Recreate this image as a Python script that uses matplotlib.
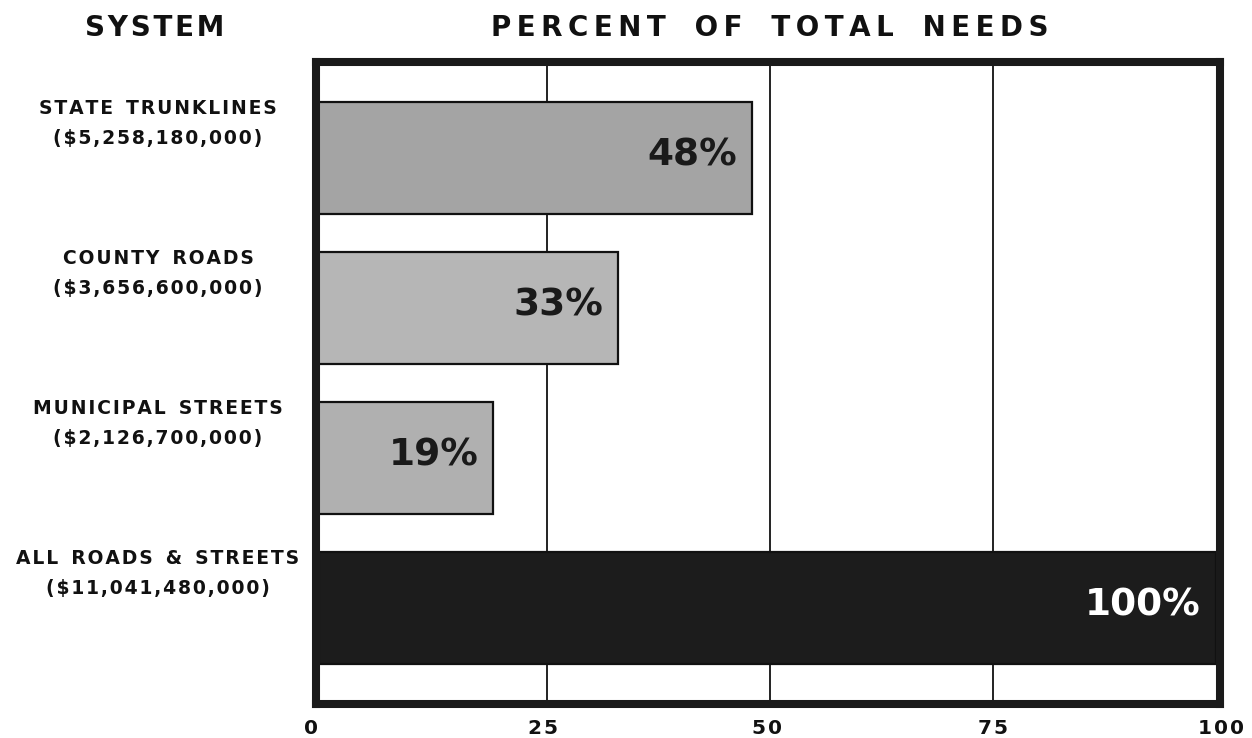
import matplotlib
matplotlib.use('Agg')
import matplotlib.pyplot as plt
import matplotlib.transforms as mtransforms
import numpy as np

# needs by system, percent of the total
systems = ['STATE TRUNKLINES', 'COUNTY ROADS', 'MUNICIPAL STREETS', 'ALL ROADS & STREETS']
costs = ['($5,258,180,000)', '($3,656,600,000)', '($2,126,700,000)', '($11,041,480,000)']
percents = [48, 33, 19, 100]
bar_colors = ['#a4a4a4', '#b6b6b6', '#b0b0b0', '#1c1c1c']
text_colors = ['#1a1a1a', '#1a1a1a', '#1a1a1a', 'white']
xticks = [0, 25, 50, 75, 100]

W, H = 1252, 738
X0 = -0.9  # left edge of the frame, in percent

plt.rcParams['font.family'] = 'DejaVu Sans'
plt.rcParams['font.weight'] = 'bold'


def spaced(s, gap='\u200a', word='  '):
    # letter spacing with hair spaces, words get a wider gap
    return word.join(gap.join(w) for w in s.split(' '))


fig = plt.figure(figsize=(W / 100, H / 100), dpi=100)
ax = fig.add_axes([316 / W, 1 - 704 / H, (1220 - 316) / W, (704 - 62) / H])

y = np.arange(len(percents))
for i in range(len(percents)):
    ax.barh(y[i], percents[i] - X0, left=X0, height=0.75, color=bar_colors[i],
            edgecolor='#111111', linewidth=1.6, zorder=3)
    ax.annotate(f'{percents[i]}%', xy=(percents[i], y[i] - 0.02),
                xytext=(-11, 0), textcoords='offset points',
                ha='right', va='center', fontsize=27, fontweight='bold',
                color=text_colors[i], zorder=4)

# vertical rules at 25, 50, 75
for v in [25, 50, 75]:
    ax.axvline(v, color='#111111', linewidth=1.3, zorder=1)

ax.set_xlim(X0, 100.45)
ax.set_ylim(3.64, -0.64)
ax.set_yticks([])
ax.set_xticks(xticks)
ax.set_xticklabels([spaced(str(t)) for t in xticks], fontsize=14.5, fontweight='bold',
                   color='#111111')
ax.tick_params(axis='x', length=0, pad=11)
# nudge the labels a little off their rules
for lbl, dx in zip(ax.get_xticklabels(), [-1.4, -0.5, -0.3, 0, 0.6]):
    lbl.set_transform(lbl.get_transform() + mtransforms.ScaledTranslation(dx * 9 / 100, 0, fig.dpi_scale_trans))
for sp in ax.spines.values():
    sp.set_linewidth(5.8)
    sp.set_color('#1a1a1a')
    sp.set_zorder(5)

# system names and costs left of the frame
trans = mtransforms.blended_transform_factory(fig.transFigure, ax.transData)
for i in range(len(systems)):
    ax.text(158 / W, y[i] - 0.33, spaced(systems[i]), transform=trans,
            ha='center', va='center', fontsize=13.5, fontweight='bold',
            color='#111111', clip_on=False)
    ax.text(158 / W, y[i] - 0.13, spaced(costs[i]), transform=trans,
            ha='center', va='center', fontsize=13.5, fontweight='bold',
            color='#111111', clip_on=False)

fig.text(155 / W, 1 - 28 / H, spaced('SYSTEM'), ha='center', va='center',
         fontsize=20, fontweight='bold', color='#111111')
fig.text(770 / W, 1 - 28 / H, spaced('PERCENT OF TOTAL NEEDS', '\u2009', '   '),
         ha='center', va='center', fontsize=20, fontweight='bold', color='#111111')

fig.savefig('out.png', dpi=100)
